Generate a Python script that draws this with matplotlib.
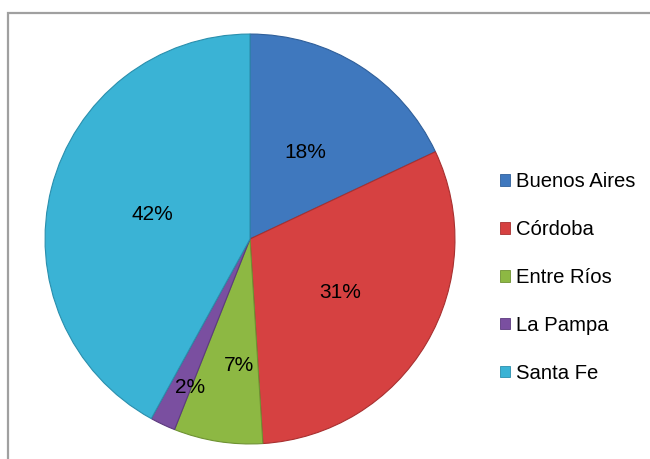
import matplotlib
matplotlib.use('Agg')
import matplotlib.pyplot as plt
from matplotlib.patches import Rectangle, Patch
import numpy as np

# datos
provincias = ['Buenos Aires', 'Córdoba', 'Entre Ríos', 'La Pampa', 'Santa Fe']
porcentajes = [18, 31, 7, 2, 42]
colores = ['#3F78BE', '#D64141', '#8DB843', '#7A4FA0', '#3AB3D5']
bordes = ['#2F5F9A', '#A83030', '#6E9232', '#5C3A7E', '#2A8FAD']
dist_etiquetas = [0.50, 0.51, 0.62, 0.78, 0.49]
giro_etiquetas = [0, 0, 4, 3, 0]  # grados

plt.rcParams['font.family'] = ['Liberation Sans', 'DejaVu Sans']

fig = plt.figure(figsize=(6.5, 4.59), dpi=100)

# marco del grafico
fig.patches.append(Rectangle((8 / 650, -0.1), 1.1, 1 - 13 / 459 + 0.1,
                             transform=fig.transFigure, fill=False,
                             edgecolor='#a0a0a0', linewidth=1.6))

ax = fig.add_axes([43 / 650, 13 / 459, 414 / 650, 414 / 459])
wedges, textos, pcts = ax.pie(porcentajes, colors=colores, startangle=90,
                              counterclock=False, autopct='%1.0f%%',
                              pctdistance=0.5,
                              wedgeprops=dict(linewidth=0.8),
                              textprops=dict(fontsize=15, color='black'))
for w, b in zip(wedges, bordes):
    w.set_edgecolor(b)

# mover las etiquetas segun el tamaño de la porcion
for w, t, d, g in zip(wedges, pcts, dist_etiquetas, giro_etiquetas):
    ang = np.deg2rad((w.theta1 + w.theta2) / 2 + g)
    t.set_position((d * np.cos(ang), d * np.sin(ang)))

ax.set_xlim(-1.01, 1.01)
ax.set_ylim(-1.01, 1.01)
ax.set_aspect('equal')

handles = [Patch(facecolor=c, edgecolor=b, linewidth=0.6) for c, b in zip(colores, bordes)]
fig.legend(handles, provincias, loc='center left',
           bbox_to_anchor=(490 / 650, 1 - 277.5 / 459), frameon=False,
           fontsize=14.6, handlelength=0.5, handleheight=0.5,
           handletextpad=0.3, labelspacing=1.42, borderpad=0)

fig.savefig('out.png', dpi=100)
